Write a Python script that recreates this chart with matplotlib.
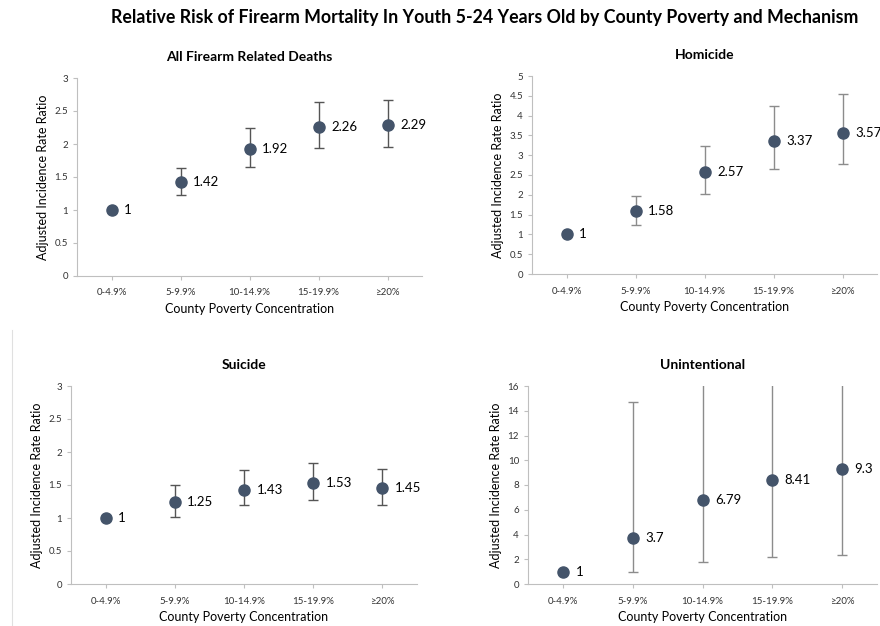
import matplotlib.pyplot as plt
import numpy as np

plt.rcParams["font.family"] = ["Lato", "DejaVu Sans"]

categories = ["0-4.9%", "5-9.9%", "10-14.9%", "15-19.9%", "≥20%"]

titles = ["All Firearm Related Deaths", "Homicide", "Suicide", "Unintentional"]

all_irr   = [1, 1.42, 1.92, 2.26, 2.29]
all_lo    = [1, 1.22, 1.65, 1.94, 1.95]
all_hi    = [1, 1.64, 2.24, 2.63, 2.67]

hom_irr   = [1, 1.58, 2.57, 3.37, 3.57]
hom_lo    = [1, 1.25, 2.02, 2.66, 2.79]
hom_hi    = [1, 1.98, 3.23, 4.23, 4.54]

sui_irr   = [1, 1.25, 1.43, 1.53, 1.45]
sui_lo    = [1, 1.02, 1.19, 1.27, 1.20]
sui_hi    = [1, 1.50, 1.72, 1.84, 1.75]

uni_irr   = [1, 3.7, 6.79, 8.41, 9.3]
uni_lo    = [1, 0.97, 1.75, 2.18, 2.34]
uni_hi    = [1, 14.7, 26.0, 32.0, 37.0]   # upper limits run off the chart

panels = [
    (all_irr, all_lo, all_hi, 3,  0.5, "#555555"),
    (hom_irr, hom_lo, hom_hi, 5,  0.5, "#8c8c8c"),
    (sui_irr, sui_lo, sui_hi, 3,  0.5, "#555555"),
    (uni_irr, uni_lo, uni_hi, 16, 2,   "#8c8c8c"),
]

# axes boxes in pixels: left, top, right, bottom
boxes = [(77, 78, 422, 276), (532, 76, 877, 274),
         (71, 386, 417, 584), (528, 386, 877, 584)]

W, H = 880, 626
fig = plt.figure(figsize=(W / 100, H / 100), dpi=100)
fig.text(485 / W, 1 - 18 / H, "Relative Risk of Firearm Mortality In Youth 5-24 Years Old "
         "by County Poverty and Mechanism", ha="center", va="center",
         fontsize=12.8, fontweight="bold")

marker_color = "#44546a"
x = np.arange(len(categories))

for (irr, lo, hi, ymax, step, ecol), (l, t, r, b), title in zip(panels, boxes, titles):
    ax = fig.add_axes([l / W, 1 - b / H, (r - l) / W, (b - t) / H])
    irr = np.array(irr)
    yerr = [irr - np.array(lo), np.array(hi) - irr]
    ax.errorbar(x, irr, yerr=yerr, fmt="o", color=marker_color, markersize=8,
                ecolor=ecol, elinewidth=1, capsize=3.5, capthick=1)
    for xi, v in zip(x, irr):
        ax.annotate(f"{v:g}", (xi, v), xytext=(9, 0), textcoords="offset points",
                    va="center", ha="left", fontsize=9.5)

    ax.set_xlim(-0.5, len(categories) - 0.5)
    ax.set_ylim(0, ymax)
    ticks = np.arange(0, ymax + step / 2, step)
    ax.set_yticks(ticks)
    ax.set_yticklabels([f"{v:g}" for v in ticks])
    ax.set_xticks(x)
    ax.set_xticklabels(categories)
    ax.tick_params(labelsize=7, labelcolor="#333333", length=3, width=0.8,
                   color="#bfbfbf")
    ax.tick_params(axis="x", pad=6)
    for s in ["top", "right"]:
        ax.spines[s].set_visible(False)
    for s in ["left", "bottom"]:
        ax.spines[s].set_color("#bfbfbf")

    ax.set_title(title, fontsize=10, fontweight="bold", pad=12)
    ax.set_xlabel("County Poverty Concentration", fontsize=9, labelpad=4)
    ax.set_ylabel("Adjusted Incidence Rate Ratio", fontsize=9)

# faint border line from the original screenshot
fig.add_artist(plt.Line2D([12 / W, 12 / W], [0, 1 - 330 / H], color="#e0e0e0", lw=0.8))

fig.savefig("out.png", dpi=100)
